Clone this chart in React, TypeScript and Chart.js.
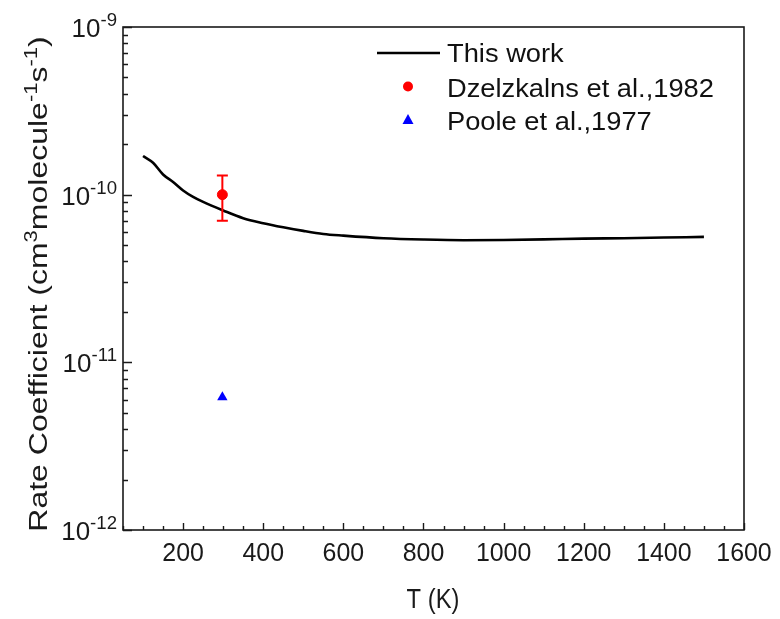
import React, { useEffect, useRef } from "react";
import { Chart, registerables } from "chart.js";
Chart.register(...registerables);

// ---- data ----
const temperatures = [100, 125, 150, 175, 200, 225, 250, 300, 350, 400, 450, 500, 550, 600, 700, 800, 900, 1000, 1100, 1200, 1300, 1400, 1500];
const thisWork = [1.70e-10, 1.55e-10, 1.32e-10, 1.19e-10, 1.06e-10, 9.7e-11, 9.05e-11, 8.05e-11, 7.24e-11, 6.76e-11, 6.39e-11, 6.08e-11, 5.83e-11, 5.7e-11, 5.5e-11, 5.4e-11, 5.35e-11, 5.37e-11, 5.41e-11, 5.47e-11, 5.5e-11, 5.55e-11, 5.6e-11];
const dzelT = [298];
const dzelK = [1.0e-10];
const dzelHigh = [1.3e-10];
const dzelLow = [7.0e-11];
const pooleT = [298];
const pooleK = [6.2e-12];

const xTickLabels = [200, 400, 600, 800, 1000, 1200, 1400, 1600];
const xMinorStep = 50;
const yTickExponents = [-12, -11, -10, -9];
const legendLabels = ["This work", "Dzelzkalns et al.,1982", "Poole et al.,1977"];

const FONT = '"Liberation Sans", Arial, sans-serif';

// draws text parts (normal / superscript) at (x,y) with horizontal squeeze sx
function drawParts(
  ctx: CanvasRenderingContext2D,
  parts: [string, boolean][],
  x: number,
  y: number,
  align: "left" | "right" | "center",
  base: number,
  sup: number,
  raise: number,
  sx = 1,
  sy = 1
) {
  ctx.save();
  ctx.translate(x, y);
  ctx.scale(sx, sy);
  const widths = parts.map(([t, s]) => {
    ctx.font = `${s ? sup : base}px ${FONT}`;
    return ctx.measureText(t).width;
  });
  const total = widths.reduce((a, b) => a + b, 0);
  let cx = align === "left" ? 0 : align === "right" ? -total : -total / 2;
  ctx.textAlign = "left";
  ctx.textBaseline = "alphabetic";
  parts.forEach(([t, s], i) => {
    ctx.font = `${s ? sup : base}px ${FONT}`;
    ctx.fillText(t, cx, s ? -raise : 0);
    cx += widths[i];
  });
  ctx.restore();
}

const decorPlugin = {
  id: "decor",
  afterDatasetsDraw(chart: any) {
    const ctx: CanvasRenderingContext2D = chart.ctx;
    const xs = chart.scales.x;
    const ys = chart.scales.y;
    ctx.save();
    ctx.strokeStyle = "#ff0000";
    ctx.lineWidth = 2;
    dzelT.forEach((t, i) => {
      const px = xs.getPixelForValue(t);
      const top = ys.getPixelForValue(dzelHigh[i]);
      const bot = ys.getPixelForValue(dzelLow[i]);
      ctx.beginPath();
      ctx.moveTo(px, top);
      ctx.lineTo(px, bot);
      ctx.moveTo(px - 5.5, top);
      ctx.lineTo(px + 5.5, top);
      ctx.moveTo(px - 5.5, bot);
      ctx.lineTo(px + 5.5, bot);
      ctx.stroke();
    });
    ctx.restore();
  },
  afterDraw(chart: any) {
    const ctx: CanvasRenderingContext2D = chart.ctx;
    const a = chart.chartArea;
    const xs = chart.scales.x;
    const ys = chart.scales.y;
    ctx.save();
    ctx.strokeStyle = "#1a1a1a";
    ctx.fillStyle = "#1a1a1a";
    ctx.lineWidth = 1.6;
    ctx.strokeRect(a.left, a.top, a.right - a.left, a.bottom - a.top);

    ctx.lineWidth = 1.4;
    ctx.beginPath();
    for (let v = Math.ceil(xs.min / xMinorStep) * xMinorStep; v <= xs.max; v += xMinorStep) {
      const px = Math.round(xs.getPixelForValue(v)) + 0.5;
      const major = xTickLabels.includes(v);
      const len = major ? 7 : 4;
      ctx.moveTo(px, a.bottom);
      ctx.lineTo(px, a.bottom - len);
    }
    for (let e = yTickExponents[0]; e < yTickExponents[yTickExponents.length - 1] + 1; e++) {
      for (let m = 1; m <= 9; m++) {
        const v = m * Math.pow(10, e);
        if (v > ys.max * 1.0001) break;
        const py = Math.round(ys.getPixelForValue(v)) + 0.5;
        const len = m === 1 ? 9 : 5;
        ctx.moveTo(a.left, py);
        ctx.lineTo(a.left + len, py);
      }
    }
    ctx.stroke();

    // x tick labels
    xTickLabels.forEach((v) => {
      drawParts(ctx, [[String(v), false]], xs.getPixelForValue(v), 561, "center", 26.5, 18, 0, 0.94);
    });
    // y tick labels
    yTickExponents.forEach((e) => {
      const py = ys.getPixelForValue(Math.pow(10, e));
      drawParts(ctx, [["10", false], [String(e), true]], 117, py + 10, "right", 26.5, 19, 11, 0.98);
    });
    // x title
    drawParts(ctx, [["T (K)", false]], 433, 608, "center", 27, 18, 0, 0.88);
    // y title
    ctx.save();
    ctx.translate(47, 284);
    ctx.rotate(-Math.PI / 2);
    drawParts(
      ctx,
      [["Rate Coefficient (cm", false], ["3", true], ["molecule", false], ["-1", true], ["s", false], ["-1", true], [")", false]],
      0, 0, "center", 32, 22, 12, 1, 0.8
    );
    ctx.restore();

    // legend
    ctx.strokeStyle = "#000";
    ctx.lineWidth = 2.5;
    ctx.beginPath();
    ctx.moveTo(377, 53);
    ctx.lineTo(440, 53);
    ctx.stroke();
    ctx.fillStyle = "#ff0000";
    ctx.beginPath();
    ctx.arc(408, 86.5, 5, 0, Math.PI * 2);
    ctx.fill();
    ctx.fillStyle = "#0000ff";
    ctx.beginPath();
    ctx.moveTo(408, 114);
    ctx.lineTo(413.5, 124);
    ctx.lineTo(402.5, 124);
    ctx.closePath();
    ctx.fill();
    ctx.fillStyle = "#111";
    drawParts(ctx, [[legendLabels[0], false]], 447, 62, "left", 25.5, 18, 0, 1.07);
    drawParts(ctx, [[legendLabels[1], false]], 447, 96.5, "left", 25.5, 18, 0, 1.07);
    drawParts(ctx, [[legendLabels[2], false]], 447, 130, "left", 25.5, 18, 0, 1.07);
    ctx.restore();
  },
};

export default function App() {
  const ref = useRef<HTMLCanvasElement | null>(null);
  useEffect(() => {
    document.body.style.margin = "0";
    const canvas = ref.current!;
    const chart = new Chart(canvas, {
      type: "scatter",
      data: {
        datasets: [
          {
            label: legendLabels[0],
            data: temperatures.map((t, i) => ({ x: t, y: thisWork[i] })),
            showLine: true,
            borderColor: "#000",
            borderWidth: 2.6,
            pointRadius: 0,
            cubicInterpolationMode: "monotone",
          },
          {
            label: legendLabels[1],
            data: dzelT.map((t, i) => ({ x: t, y: dzelK[i] })),
            backgroundColor: "#ff0000",
            borderColor: "#ff0000",
            pointRadius: 5,
            pointStyle: "circle",
          },
          {
            label: legendLabels[2],
            data: pooleT.map((t, i) => ({ x: t, y: pooleK[i] })),
            backgroundColor: "#0000ff",
            borderColor: "#0000ff",
            pointRadius: 6,
            pointStyle: "triangle",
            borderWidth: 0,
          },
        ],
      },
      options: {
        animation: false,
        responsive: false,
        devicePixelRatio: 1,
        layout: { padding: { left: 123, right: 36, top: 27, bottom: 89 } },
        plugins: { legend: { display: false }, tooltip: { enabled: false } },
        scales: {
          x: {
            type: "linear",
            min: 50,
            max: 1600,
            grid: { display: false, drawTicks: false },
            border: { display: false },
            ticks: { display: false },
          },
          y: {
            type: "logarithmic",
            min: 1e-12,
            max: 1e-9,
            grid: { display: false, drawTicks: false },
            border: { display: false },
            ticks: { display: false },
          },
        },
      },
      plugins: [decorPlugin],
    } as any);
    return () => chart.destroy();
  }, []);
  return (
    <div style={{ position: "absolute", left: 0, top: 0, background: "#fff" }}>
      <canvas ref={ref} width={780} height={619} style={{ width: 780, height: 619, display: "block" }} />
    </div>
  );
}
